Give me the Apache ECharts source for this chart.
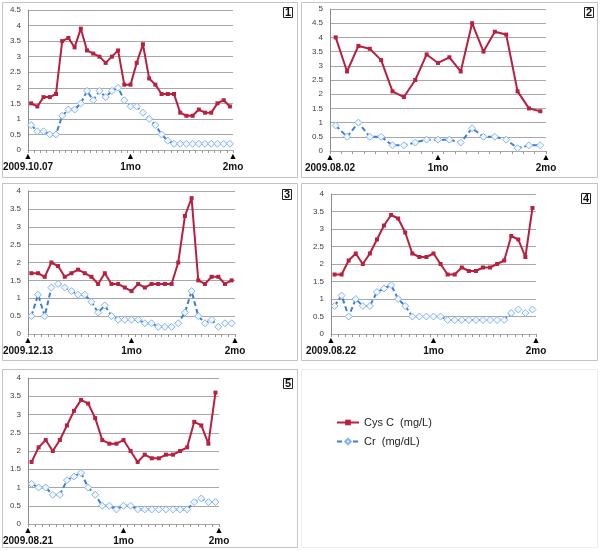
<!DOCTYPE html>
<html>
<head>
<meta charset="utf-8">
<script src="https://cdn.jsdelivr.net/npm/echarts@6/dist/echarts.min.js"></script>
<style>
html,body{margin:0;padding:0;background:#fff;}
#c{width:600px;height:551px;}
</style>
</head>
<body>
<div id="c"></div>
<script>
// ---- data ----
var seriesNames = ['Cys C  (mg/L)', 'Cr  (mg/dL)'];
var panelLabels = ['1', '2', '3', '4', '5'];
var startDates = ['2009.10.07', '2009.08.02', '2009.12.13', '2009.08.22', '2009.08.21'];
var monthLabels = ['1mo', '2mo'];
var yMax = [4.5, 5, 4, 4, 4];

var cys1 = [1.5,1.4,1.7,1.7,1.8,3.5,3.6,3.3,3.9,3.2,3.1,3.0,2.8,3.0,3.2,2.1,2.1,2.8,3.4,2.3,2.1,1.8,1.8,1.8,1.2,1.1,1.1,1.3,1.2,1.2,1.5,1.6,1.4];
var cr1  = [0.8,0.6,0.6,0.5,0.5,1.1,1.3,1.3,1.5,1.9,1.6,1.9,1.7,1.9,2.0,1.6,1.4,1.4,1.2,1.0,0.8,0.5,0.3,0.2,0.2,0.2,0.2,0.2,0.2,0.2,0.2,0.2,0.2];

var cys2 = [4.0,2.8,3.7,3.6,3.2,2.1,1.9,2.5,3.4,3.1,3.3,2.8,4.5,3.5,4.2,4.1,2.1,1.5,1.4];
var cr2  = [0.9,0.5,1.0,0.5,0.5,0.2,0.2,0.3,0.4,0.4,0.4,0.3,0.8,0.5,0.5,0.4,0.1,0.2,0.2];

var cys3 = [1.7,1.7,1.6,2.0,1.9,1.6,1.7,1.8,1.7,1.6,1.4,1.7,1.4,1.4,1.3,1.2,1.4,1.3,1.4,1.4,1.4,1.4,2.0,3.3,3.8,1.5,1.4,1.6,1.6,1.4,1.5];
var cr3  = [0.5,1.1,0.5,1.3,1.4,1.3,1.2,1.1,1.1,0.9,0.6,0.8,0.5,0.4,0.4,0.4,0.4,0.3,0.3,0.2,0.2,0.2,0.3,0.6,1.2,0.5,0.3,0.4,0.2,0.3,0.3];

var cys4 = [1.7,1.7,2.1,2.3,2.0,2.3,2.7,3.1,3.4,3.3,2.9,2.3,2.2,2.2,2.3,2.0,1.7,1.7,1.9,1.8,1.8,1.9,1.9,2.0,2.1,2.8,2.7,2.2,3.6];
var cr4  = [0.8,1.1,0.5,1.0,0.8,0.8,1.2,1.3,1.4,1.0,0.8,0.5,0.5,0.5,0.5,0.5,0.4,0.4,0.4,0.4,0.4,0.4,0.4,0.4,0.4,0.6,0.7,0.6,0.7];

var cys5 = [1.7,2.1,2.3,2.0,2.3,2.7,3.1,3.4,3.3,2.9,2.3,2.2,2.2,2.3,2.0,1.7,1.9,1.8,1.8,1.9,1.9,2.0,2.1,2.8,2.7,2.2,3.6];
var cr5  = [1.1,1.0,1.0,0.8,0.8,1.2,1.3,1.4,1.0,0.8,0.5,0.5,0.4,0.5,0.5,0.4,0.4,0.4,0.4,0.4,0.4,0.4,0.4,0.6,0.7,0.6,0.6];

var cysAll = [cys1, cys2, cys3, cys4, cys5];
var crAll = [cr1, cr2, cr3, cr4, cr5];

// ---- layout (pixels) ----
var grids = [
  {left: 28,  top: 10,  width: 205, height: 140},
  {left: 330, top: 9,   width: 216, height: 142},
  {left: 26,  top: 191, width: 209, height: 143},
  {left: 331, top: 194, width: 205, height: 140},
  {left: 27,  top: 378, width: 192, height: 146}
];
var boxes = [
  {x: 2, y: 2, w: 295, h: 175},
  {x: 301, y: 2, w: 296, h: 175},
  {x: 2, y: 183, w: 295, h: 177},
  {x: 301, y: 183, w: 296, h: 177},
  {x: 2, y: 369, w: 295, h: 178},
  {x: 301, y: 369, w: 296, h: 178}
];
var numPos = [
  {left: 283, top: 7},
  {left: 584, top: 7},
  {left: 282, top: 189},
  {left: 581, top: 193},
  {left: 283, top: 378}
];

var RED = '#B8203F';
var BLUE = '#3B7DD8';
var GRIDC = '#A8A8A8';

var xAxes = [], yAxes = [], series = [], titles = [], graphics = [];

boxes.forEach(function (b, i) {
  graphics.push({
    type: 'rect', shape: {x: b.x + 0.5, y: b.y + 0.5, width: b.w, height: b.h},
    style: {fill: 'none', stroke: i === 5 ? '#EDEDED' : '#C4C4C4', lineWidth: 1}, silent: true
  });
});

for (var i = 0; i < 5; i++) {
  var n = cysAll[i].length;
  var cats = [];
  for (var k = 1; k <= n; k++) cats.push(String(k));
  var tickLabels = [startDates[i]].concat(monthLabels);

  xAxes.push({
    type: 'category', gridIndex: i, data: cats, boundaryGap: true,
    axisLine: {show: true, lineStyle: {color: GRIDC, width: 1}},
    axisTick: {show: true, interval: 0, length: 3, lineStyle: {color: '#999'}},
    axisLabel: {show: false}
  });
  xAxes.push({
    type: 'value', gridIndex: i, position: 'bottom', min: 0, max: 2, interval: 1,
    axisLine: {show: false}, axisTick: {show: false}, splitLine: {show: false},
    axisLabel: {
      show: true, margin: 2, showMinLabel: true, showMaxLabel: true,
      formatter: (function (labels) {
        return function (v) {
          return '{a|▲}\n{b|' + labels[Math.round(v)] + '}';
        };
      })(tickLabels),
      rich: {
        a: {fontSize: 9, lineHeight: 9, color: '#000', align: 'center'},
        b: {fontSize: 10, lineHeight: 13, fontWeight: 'bold', color: '#111', fontFamily: 'Liberation Sans', align: 'center'}
      }
    }
  });
  yAxes.push({
    type: 'value', gridIndex: i, min: 0, max: yMax[i], interval: 0.5,
    axisLine: {show: true, lineStyle: {color: '#8C8C8C', width: 1}},
    axisTick: {show: false},
    splitLine: {show: true, lineStyle: {color: GRIDC, width: 1}},
    axisLabel: {fontSize: 8, color: '#404040', margin: 7, fontFamily: 'Liberation Sans'}
  });
  series.push({
    name: seriesNames[0], type: 'line', xAxisIndex: 2 * i, yAxisIndex: i,
    data: cysAll[i], symbol: 'rect', symbolSize: 4, showSymbol: true, showAllSymbol: true,
    lineStyle: {color: RED, width: 2}, itemStyle: {color: RED},
    animation: false, z: 3
  });
  series.push({
    name: seriesNames[1], type: 'line', xAxisIndex: 2 * i, yAxisIndex: i,
    data: crAll[i], symbol: 'diamond', symbolSize: 7, showSymbol: true, showAllSymbol: true,
    lineStyle: {color: BLUE, width: 2, type: [5, 3]},
    itemStyle: {color: '#F2F7FF', borderColor: '#86B5EE', borderWidth: 1},
    animation: false, z: 2
  });
  titles.push({
    text: panelLabels[i], left: numPos[i].left, top: numPos[i].top,
    padding: [0, 2, 0, 2], borderColor: '#222', borderWidth: 1,
    textStyle: {fontSize: 11, fontWeight: 'bold', color: '#111', fontFamily: 'Liberation Sans', lineHeight: 11}
  });
}

var chart = echarts.init(document.getElementById('c'), null, {renderer: 'canvas'});
chart.setOption({
  animation: false,
  backgroundColor: '#fff',
  title: titles,
  grid: grids,
  xAxis: xAxes,
  yAxis: yAxes,
  series: series,
  graphic: graphics,
  legend: {
    data: seriesNames,
    orient: 'vertical', left: 331, top: 412,
    itemWidth: 22, itemHeight: 7, itemGap: 8,
    textStyle: {fontSize: 11, color: '#222', fontFamily: 'Liberation Sans'}
  }
});
</script>
</body>
</html>
